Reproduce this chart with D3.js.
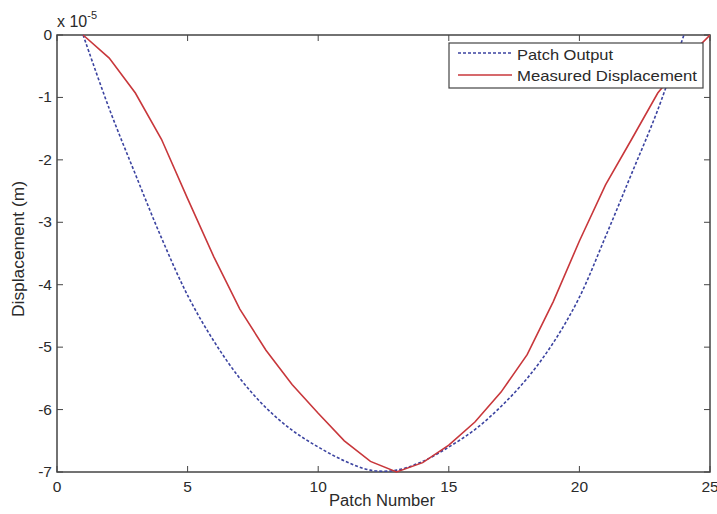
<!DOCTYPE html>
<html><head><meta charset="utf-8">
<script src="https://cdn.jsdelivr.net/npm/d3@7"></script>
<style>body{margin:0;background:#fff}svg{display:block}text{font-family:"Liberation Sans",Arial,sans-serif;fill:#2a2a2a}</style>
</head><body><svg id="c" width="717" height="514"></svg>
<script>
const patchesBlue = [1,2,3,4,5,6,7,8,9,10,11,12,13,14,15,16,17,18,19,20,21,22,23,24];
const patchOutput = [0,-1.18,-2.23,-3.25,-4.17,-4.9,-5.5,-5.97,-6.33,-6.6,-6.82,-6.97,-6.97,-6.83,-6.6,-6.32,-5.95,-5.5,-4.93,-4.2,-3.23,-2.22,-1.2,0];
const patchesRed = [1,2,3,4,5,6,7,8,9,10,11,12,13,14,15,16,17,18,19,20,21,22,23,24,25];
const measured = [0,-0.37,-0.93,-1.67,-2.62,-3.55,-4.39,-5.05,-5.6,-6.06,-6.5,-6.83,-7.0,-6.85,-6.57,-6.2,-5.72,-5.12,-4.27,-3.3,-2.4,-1.67,-0.93,-0.42,0];
const xTicks = [0,5,10,15,20,25];
const yTicks = [0,-1,-2,-3,-4,-5,-6,-7];
const legendLabels = ["Patch Output","Measured Displacement"];

const svg = d3.select("#c");
const L=57, R=710, T=35, B=472;
const x = d3.scaleLinear().domain([0,25]).range([L,R]);
const y = d3.scaleLinear().domain([-7,0]).range([B,T]);
const axCol="#444";

svg.append("clipPath").attr("id","pc").append("rect").attr("x",L).attr("y",T-1).attr("width",R-L).attr("height",B-T+2);

const g = svg.append("g");
const tk = 6;
xTicks.forEach(v=>{
  g.append("line").attr("x1",x(v)).attr("x2",x(v)).attr("y1",B).attr("y2",B-tk).attr("stroke",axCol);
  g.append("line").attr("x1",x(v)).attr("x2",x(v)).attr("y1",T).attr("y2",T+tk).attr("stroke",axCol);
  g.append("text").attr("x",x(v)).attr("y",B+20).attr("text-anchor","middle").attr("font-size",15.5).text(d3.format("d")(v));
});
yTicks.forEach(v=>{
  g.append("line").attr("x1",L).attr("x2",L+tk).attr("y1",y(v)).attr("y2",y(v)).attr("stroke",axCol);
  g.append("line").attr("x1",R).attr("x2",R-tk).attr("y1",y(v)).attr("y2",y(v)).attr("stroke",axCol);
  g.append("text").attr("x",L-5).attr("y",y(v)+5).attr("text-anchor","end").attr("font-size",15.5).text(v===0?"0":"-"+Math.abs(v));
});
g.append("rect").attr("x",L).attr("y",T).attr("width",R-L).attr("height",B-T).attr("fill","none").attr("stroke",axCol).attr("stroke-width",1.5);

const lineB = d3.line().x((d,i)=>x(patchesBlue[i])).y(d=>y(d)).curve(d3.curveCatmullRom);
const lineR = d3.line().x((d,i)=>x(patchesRed[i])).y(d=>y(d));
const pg = svg.append("g").attr("clip-path","url(#pc)");
pg.append("path").attr("d",lineB(patchOutput)).attr("fill","none").attr("stroke","#3b43a0").attr("stroke-width",1.6).attr("stroke-dasharray","3,2");
pg.append("path").attr("d",lineR(measured)).attr("fill","none").attr("stroke","#c8373b").attr("stroke-width",1.6);

const lg = svg.append("g");
lg.append("rect").attr("x",449).attr("y",43).attr("width",254).attr("height",45).attr("fill","#fff").attr("stroke",axCol).attr("stroke-width",1.2);
lg.append("line").attr("x1",458).attr("x2",512).attr("y1",53).attr("y2",53).attr("stroke","#3b43a0").attr("stroke-width",1.4).attr("stroke-dasharray","3,2");
lg.append("line").attr("x1",458).attr("x2",512).attr("y1",75).attr("y2",75).attr("stroke","#c8373b").attr("stroke-width",1.6);
lg.append("text").attr("x",517).attr("y",60).attr("font-size",15).attr("textLength",96).attr("lengthAdjust","spacingAndGlyphs").text(legendLabels[0]);
lg.append("text").attr("x",517).attr("y",81).attr("font-size",15).attr("textLength",180).attr("lengthAdjust","spacingAndGlyphs").text(legendLabels[1]);

const ex = svg.append("text").attr("x",57).attr("y",27).attr("font-size",16);
ex.append("tspan").text("x 10");
ex.append("tspan").attr("dy",-8).attr("font-size",11).text("-5");

svg.append("text").attr("x",382).attr("y",506).attr("text-anchor","middle").attr("font-size",16).attr("textLength",106).attr("lengthAdjust","spacingAndGlyphs").text("Patch Number");
svg.append("text").attr("transform",`translate(24,249) rotate(-90)`).attr("text-anchor","middle").attr("font-size",16).attr("textLength",136).attr("lengthAdjust","spacingAndGlyphs").text("Displacement (m)");
</script></body></html>
